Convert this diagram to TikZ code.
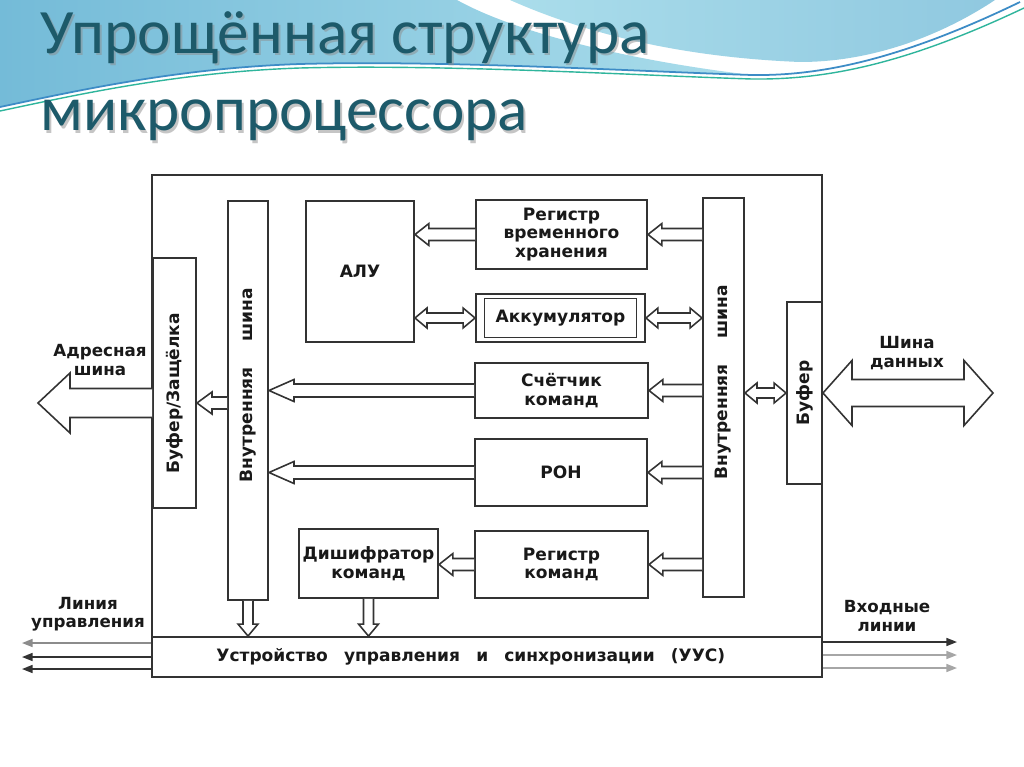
\documentclass[tikz,border=0pt]{standalone}
\usepackage{fontspec}
\usepackage{tikz}
\usetikzlibrary{positioning,calc,arrows.meta}

\newfontfamily\diagfont{DejaVu Sans}
\newfontfamily\titlefont{Carlito}

\definecolor{ink}{HTML}{333333}
\definecolor{titleteal}{HTML}{1D5A6A}
\definecolor{wavedeep}{HTML}{74BBD8}
\definecolor{wavelight}{HTML}{AADDEB}
\definecolor{waveblue}{HTML}{3D8CC6}
\definecolor{wavegreen}{HTML}{2FB59C}

\tikzset{
  blk/.style={draw=ink, line width=1.1pt, fill=white, inner sep=0pt, align=center,
    text=black!90, font=\diagfont\bfseries\fontsize{9.7}{10.5}\selectfont},
  lbl/.style={align=center, inner sep=0pt, text=black!90,
    font=\diagfont\bfseries\fontsize{9.5}{10.5}\selectfont},
  ttl/.style={anchor=base west, inner sep=0pt, text=titleteal,
    font=\titlefont\fontsize{36}{40}\selectfont},
  ttlshadow/.style={ttl, text=black!45, opacity=0.5},
  arrowline/.style={draw=ink, line width=0.9pt, fill=white, line join=miter},
  ctrl/.style={line width=0.9pt, -{Triangle[length=6pt,width=4.5pt]}},
}

% hollow block arrow: tail, tip, half shaft, half head, head length
\newcommand{\hollowarrow}[5]{%
  \coordinate (ha-n) at ($(#2)!#5!(#1)$);
  \filldraw[arrowline] ($(#1)!#3!90:(#2)$) -- ($(ha-n)!#3!90:(#2)$) -- ($(ha-n)!#4!90:(#2)$)
    -- (#2) -- ($(ha-n)!#4!-90:(#2)$) -- ($(ha-n)!#3!-90:(#2)$) -- ($(#1)!#3!-90:(#2)$);
}
% hollow block arrow with two tips
\newcommand{\hollowdarrow}[5]{%
  \coordinate (hd-a) at ($(#1)!#5!(#2)$);
  \coordinate (hd-b) at ($(#2)!#5!(#1)$);
  \filldraw[arrowline] (#1) -- ($(hd-a)!#4!90:(#2)$) -- ($(hd-a)!#3!90:(#2)$)
    -- ($(hd-b)!#3!90:(#2)$) -- ($(hd-b)!#4!90:(#2)$) -- (#2)
    -- ($(hd-b)!#4!-90:(#2)$) -- ($(hd-b)!#3!-90:(#2)$)
    -- ($(hd-a)!#3!-90:(#2)$) -- ($(hd-a)!#4!-90:(#2)$) -- cycle;
}

\begin{document}
\begin{tikzpicture}[x=0.02cm, y=-0.02cm]
    \fill[white] (0,0) rectangle (1024,767);
    \useasboundingbox (0,0) rectangle (1024,767);

    % background waves
    \shade[left color=wavedeep, right color=wavelight]
      (0,0) -- (457,0) .. controls (520,35) and (640,62) .. (752,75)
      .. controls (650,72) and (450,60) .. (300,64)
      .. controls (180,68) and (80,90) .. (0,107) -- cycle;
    \shade[left color=wavelight, right color=wavedeep!80]
      (510,0) .. controls (600,40) and (700,58) .. (800,62)
      .. controls (880,62) and (950,30) .. (995,0) -- cycle;
    \draw[waveblue, line width=1pt] (0,107) .. controls (80,90) and (180,68) .. (300,64)
      .. controls (450,60) and (650,72) .. (752,75) .. controls (820,76) and (900,60) .. (1020,2);
    \draw[wavegreen, line width=0.8pt] (0,111) .. controls (80,94) and (180,72) .. (300,68)
      .. controls (450,64) and (650,76) .. (752,79) .. controls (830,80) and (910,62) .. (1024,8);

    % title
    \node[ttlshadow] (t1s) at (42,56) {Упрощённая структура};
    \node[ttlshadow] (t2s) at (42,133) {микропроцессора};
    \node[ttl] (t1) at (40,54) {Упрощённая структура};
    \node[ttl] (t2) at (40,131) {микропроцессора};

    % blocks
    \node[blk, minimum width=13.4cm, minimum height=10.04cm] (cpu) at (487,426) {};
    \node[blk, minimum width=13.4cm, minimum height=0.8cm] (uus) at (487,657)
      {Устройство\hspace{0.6em} управления\hspace{0.6em} и\hspace{0.6em} синхронизации\hspace{0.6em} (УУС)\hspace*{1.9em}};
    \node[blk, minimum width=0.86cm, minimum height=5cm] (latch) at (174.5,383)
      {\rotatebox{90}{Буфер/Защёлка\hspace*{1.2em}}};
    \node[blk, minimum width=0.8cm, minimum height=7.98cm] (lbus) at (248,400.5)
      {\rotatebox{90}{\hspace*{1.8em}Внутренняя\hspace{1.5em}шина}};
    \node[blk, minimum width=0.82cm, minimum height=7.98cm] (rbus) at (723.5,397.5)
      {\rotatebox{90}{\hspace*{1.8em}Внутренняя\hspace{1.5em}шина}};
    \node[blk, minimum width=0.7cm, minimum height=3.64cm] (buf) at (804.5,393)
      {\rotatebox{90}{Буфер}};
    \node[blk, minimum width=2.16cm, minimum height=2.82cm] (alu) at (360,271.5) {АЛУ};
    \node[blk, minimum width=3.42cm, minimum height=1.38cm] (regvr) at (561.5,234.5)
      {Регистр\\временного\\хранения};
    \node[blk, minimum width=3.38cm, minimum height=0.96cm] (acc) at (560.5,318) {};
    \node[blk, minimum width=3.04cm, minimum height=0.78cm] (accin) at (acc) {Аккумулятор};
    \node[blk, minimum width=3.46cm, minimum height=1.1cm] (cnt) at (561.5,390.5)
      {Счётчик\\команд};
    \node[blk, minimum width=3.44cm, minimum height=1.34cm] (ron) at (561,472.5) {РОН};
    \node[blk, minimum width=3.46cm, minimum height=1.34cm] (regcmd) at (561.5,564.5)
      {Регистр\\команд};
    \node[blk, minimum width=2.78cm, minimum height=1.38cm] (dec) at (368.5,563.5)
      {Дишифратор\\команд};

    % internal transfers
    \hollowarrow{regvr.west}{alu.east |- regvr.west}{0.12cm}{0.22cm}{0.28cm}
    \hollowarrow{rbus.west |- regvr.east}{regvr.east}{0.12cm}{0.22cm}{0.28cm}
    \hollowdarrow{alu.east |- acc.west}{acc.west}{0.1cm}{0.2cm}{0.24cm}
    \hollowdarrow{acc.east}{rbus.west |- acc.east}{0.1cm}{0.2cm}{0.24cm}
    \hollowarrow{cnt.west}{lbus.east |- cnt.west}{0.13cm}{0.22cm}{0.5cm}
    \hollowarrow{rbus.west |- cnt.east}{cnt.east}{0.12cm}{0.22cm}{0.28cm}
    \hollowarrow{ron.west}{lbus.east |- ron.west}{0.13cm}{0.22cm}{0.5cm}
    \hollowarrow{rbus.west |- ron.east}{ron.east}{0.12cm}{0.22cm}{0.28cm}
    \hollowarrow{rbus.west |- regcmd.east}{regcmd.east}{0.12cm}{0.22cm}{0.28cm}
    \hollowarrow{regcmd.west}{dec.east |- regcmd.west}{0.12cm}{0.22cm}{0.28cm}
    \coordinate (latchin) at ($(latch.east)+(0,20)$);
    \hollowarrow{lbus.west |- latchin}{latchin}{0.12cm}{0.22cm}{0.3cm}
    \hollowdarrow{rbus.east |- buf.west}{buf.west}{0.1cm}{0.2cm}{0.24cm}
    \hollowarrow{lbus.south}{lbus.south |- uus.north}{0.1cm}{0.2cm}{0.24cm}
    \hollowarrow{dec.south}{dec.south |- uus.north}{0.1cm}{0.2cm}{0.24cm}

    % external buses
    \coordinate (addrend) at (38,403);
    \hollowarrow{latch.west |- latchin}{addrend}{0.29cm}{0.6cm}{0.64cm}
    \coordinate (dataend) at (993,393);
    \hollowdarrow{buf.east}{dataend}{0.27cm}{0.65cm}{0.58cm}
    \node[lbl] (addrlbl) at (100,360) {Адресная\\шина};
    \node[lbl] (datalbl) at (907,353) {Шина\\данных};

    % control and input lines
    \coordinate (ctrlend) at (22,657);
    \coordinate (inend) at (957,657);
    \foreach \dy/\lc in {-14/black!45, 0/ink, 12/ink}
      \draw[ctrl, \lc] ($(uus.west)+(0,\dy)$) -- ($(ctrlend)+(0,\dy)$);
    \foreach \dy/\lc in {-15/ink, -2/black!35, 11/black!35}
      \draw[ctrl, \lc] ($(uus.east)+(0,\dy)$) -- ($(inend)+(0,\dy)$);
    \node[lbl] (ctrllbl) at (88,614) {Линия\\управления};
    \node[lbl] (inlbl) at (887,616) {Входные\\линии};
\end{tikzpicture}
\end{document}
